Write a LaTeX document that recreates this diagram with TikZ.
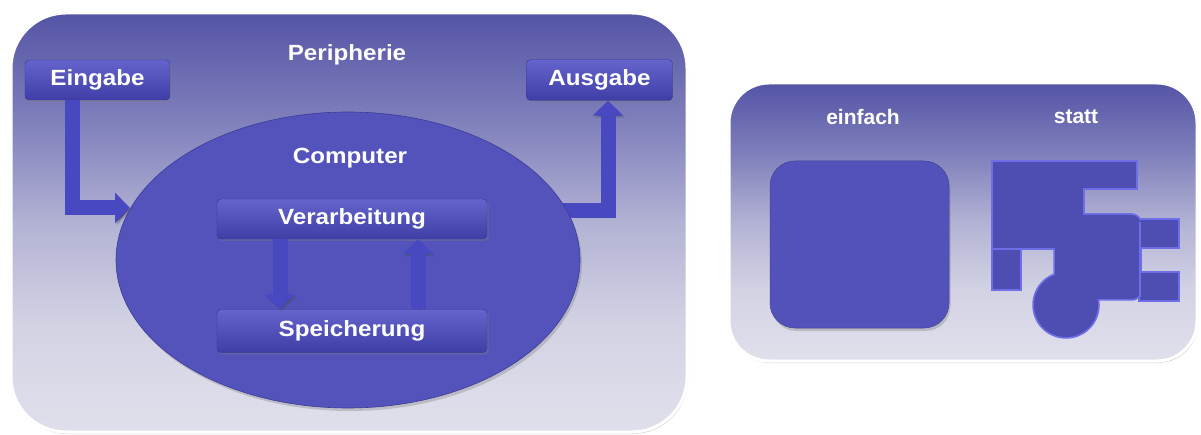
\documentclass[tikz,border=0pt]{standalone}
\usepackage{fontspec}
\setmainfont{Liberation Sans}
\usetikzlibrary{arrows.meta,shapes.geometric,shadows}
\definecolor{ptop}{RGB}{84,84,166}
\definecolor{pmidA}{RGB}{128,128,188}
\definecolor{pmidB}{RGB}{178,178,212}
\definecolor{pmidC}{RGB}{210,210,228}
\definecolor{pbot}{RGB}{224,224,236}
\definecolor{boxtop}{RGB}{100,100,204}
\definecolor{boxbot}{RGB}{62,62,166}
\definecolor{ellfill}{RGB}{83,83,187}
\definecolor{elldraw}{RGB}{60,60,150}
\definecolor{arrowc}{RGB}{72,72,192}
\definecolor{arrowhl}{RGB}{104,104,214}
\definecolor{sqfill}{RGB}{82,82,186}
\definecolor{shfill}{RGB}{78,78,178}
\definecolor{shedge}{RGB}{110,110,230}
\pgfdeclareverticalshading{panelshade}{100bp}{color(0bp)=(pbot); color(25bp)=(pbot); color(38bp)=(pmidC); color(50bp)=(pmidB); color(62bp)=(pmidA); color(75bp)=(ptop); color(100bp)=(ptop)}
\newcommand\wide[1]{\scalebox{1.1}[1]{#1}}
\begin{document}
\begin{tikzpicture}[x=1pt,y=-1pt,
  lbl/.style={text=white,font=\fontsize{22}{26}\selectfont\bfseries,inner sep=0pt},
  rlbl/.style={text=white,font=\fontsize{21}{25}\selectfont\bfseries,inner sep=0pt},
  boxst/.style={rounded corners=4pt,top color=boxtop,bottom color=boxbot,draw=boxbot!85!black,line width=0.4pt,
    drop shadow={opacity=0.35,shadow xshift=1.5pt,shadow yshift=-2pt},inner sep=0pt,
    text=white,font=\fontsize{22}{26}\selectfont\bfseries},
  blockarrow/.style={draw=arrowc,line width=15pt,-{Triangle[width=30pt,length=15pt]},line join=miter,
    preaction={draw=black!70,draw opacity=0.3,transform canvas={shift={(1.5pt,-2pt)}}}},
  panelst/.style={draw=white,line width=3pt,shading=panelshade,
    drop shadow={opacity=0.3,shadow xshift=1pt,shadow yshift=-2pt}},
  shp/.style={draw=shedge,line width=3.5pt,line join=miter},
  shpfill/.style={fill=shfill}
]
\useasboundingbox[fill=white] (0,0) rectangle (1201,435);
% left panel
\path[panelst,rounded corners=55pt] (11,13) rectangle (687,432);
\node[lbl] (peri) at (347,55) {\wide{Peripherie}};
\node[boxst,minimum width=145pt,minimum height=40pt] (ein) at (97.5,80) {\wide{Eingabe}};
\node[boxst,minimum width=146pt,minimum height=41pt] (aus) at (599.5,80) {\wide{Ausgabe}};
\coordinate (outStart) at (555,211);
\draw[blockarrow] (outStart) -| ([xshift=8.5pt]aus.south);
\node[ellipse,fill=ellfill,draw=elldraw,line width=0.6pt,minimum width=464pt,minimum height=296pt,inner sep=0pt,
  drop shadow={opacity=0.35,shadow xshift=2pt,shadow yshift=-3pt}] (comp) at (348,260) {};
\coordinate (inTip) at (130,208);
\draw[blockarrow] ([xshift=-25.5pt]ein.south) |- (inTip);
\node[lbl] (comptxt) at (350,158) {\wide{Computer}};
\node[boxst,minimum width=270pt,minimum height=40pt] (verar) at (352,219) {\wide{Verarbeitung}};
\node[boxst,minimum width=270pt,minimum height=43pt] (speich) at (352,331) {\wide{Speicherung}};
\draw[blockarrow] ([xshift=-72pt]verar.south) -- ([xshift=-72pt]speich.north);
\draw[blockarrow] ([xshift=66pt]speich.north) -- ([xshift=66pt]verar.south);
% right panel
\path[panelst,rounded corners=40pt] (729,83) rectangle (1197,361);
\node[rlbl] (einf) at (863,117) {einfach};
\node[rlbl] (statt) at (1076,117) {statt};
\node[rounded corners=25pt,fill=sqfill,draw=sqfill!80!black,line width=0.5pt,minimum width=179pt,minimum height=167pt,inner sep=0pt,
  drop shadow={opacity=0.35,shadow xshift=1.5pt,shadow yshift=-3pt}] (sq) at (859.5,244.5) {};
% complex shape: outline of union, then fill
\begin{scope}
\path[shp] (993,162) rectangle (1136,188);
\path[shp] (993,162) rectangle (1083,248);
\path[shp,rounded corners=8pt] (1055,215) rectangle (1140,299);
\path[shp] (993,248) rectangle (1020,289);
\path[shp] (1140,220) rectangle (1178,247);
\path[shp] (1140,273) rectangle (1178,300);
\path[shp] (1066,305) circle[radius=32pt];
\path[shpfill] (993,162) rectangle (1136,188);
\path[shpfill] (993,162) rectangle (1083,248);
\path[shpfill,rounded corners=8pt] (1055,215) rectangle (1140,299);
\path[shpfill] (1140,220) rectangle (1178,247);
\path[shpfill] (1140,273) rectangle (1178,300);
\path[shpfill] (1066,305) circle[radius=32pt];
\path[shpfill] (993,248) rectangle (1020,289);
\draw[shedge,line width=2pt] (993,249) -- (1020,249);
\draw[shedge,line width=1.5pt] (1140,222) -- (1140,297);
\end{scope}
\end{tikzpicture}
\end{document}
